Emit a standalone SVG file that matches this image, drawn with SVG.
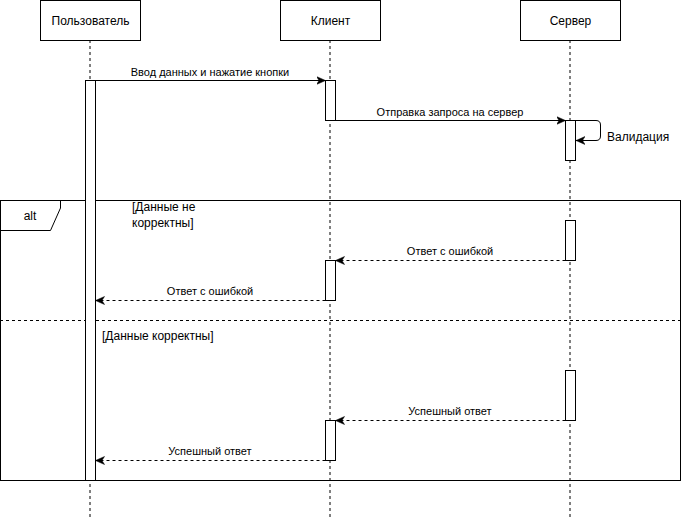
<svg xmlns="http://www.w3.org/2000/svg" width="682" height="522" viewBox="0 0 682 522">
<style>
.box{fill:#fff;stroke:#000;stroke-width:1}
.life{stroke:#000;stroke-width:1;stroke-dasharray:3 3;fill:none}
.act{fill:#fff;stroke:#000;stroke-width:1}
.msg{stroke:#000;stroke-width:1;fill:none;marker-end:url(#arr)}
.ret{stroke:#000;stroke-width:1;fill:none;stroke-dasharray:3 3;marker-end:url(#arr)}
.frame{fill:none;stroke:#000;stroke-width:1}
text{font-family:"Liberation Sans",Arial,sans-serif;fill:#000}
.t12{font-size:12px}
.t11{font-size:11px}
</style>
<defs>
<marker id="arr" markerUnits="userSpaceOnUse" markerWidth="10" markerHeight="10" viewBox="0 0 10 10" refX="9" refY="5" orient="auto">
<path d="M0,1 L9,5 L0,9 L2.5,5 Z" fill="#000" stroke="#000" stroke-width="0.5"/>
</marker>
</defs>
<rect width="682" height="522" fill="#fff"/>

<g id="lifelines">
<line class="life" x1="90" y1="40" x2="90" y2="520"/>
<line class="life" x1="330" y1="40" x2="330" y2="520"/>
<line class="life" x1="570" y1="40" x2="570" y2="520"/>
</g>

<g id="alt-frame">
<rect class="frame" x="0.5" y="200.5" width="680" height="280"/>
<path class="frame" d="M0.5,200.5 L60.5,200.5 L60.5,208 L50.5,230.5 L0.5,230.5"/>
<text class="t12" x="30" y="220" text-anchor="middle">alt</text>
<line class="life" x1="0" y1="320.5" x2="680" y2="320.5"/>
<text class="t12" x="132" y="211">[Данные не</text>
<text class="t12" x="132" y="227">корректны]</text>
<text class="t12" x="102" y="340">[Данные корректны]</text>
</g>

<g id="user">
<rect class="box" x="40.5" y="0.5" width="100" height="40"/>
<text class="t12" x="90.5" y="24.5" text-anchor="middle">Пользователь</text>
<rect class="act" x="85.5" y="80.5" width="10" height="400"/>
</g>

<g id="client">
<rect class="box" x="280.5" y="0.5" width="100" height="40"/>
<text class="t12" x="330.5" y="24.5" text-anchor="middle">Клиент</text>
<rect class="act" x="325.5" y="80.5" width="10" height="40"/>
<rect class="act" x="325.5" y="260.5" width="10" height="40"/>
<rect class="act" x="325.5" y="420.5" width="10" height="40"/>
</g>

<g id="server">
<rect class="box" x="520.5" y="0.5" width="100" height="40"/>
<text class="t12" x="570.5" y="24.5" text-anchor="middle">Сервер</text>
<rect class="act" x="565.5" y="120.5" width="10" height="40"/>
<rect class="act" x="565.5" y="220.5" width="10" height="40"/>
<rect class="act" x="565.5" y="370.5" width="10" height="50"/>
</g>

<g id="connectors">
<line class="msg" x1="95.5" y1="80.5" x2="325.5" y2="80.5"/>
<text class="t11" x="210" y="76" text-anchor="middle">Ввод данных и нажатие кнопки</text>
<line class="msg" x1="335.5" y1="120.5" x2="565.5" y2="120.5"/>
<text class="t11" x="450" y="116" text-anchor="middle">Отправка запроса на сервер</text>
<path class="msg" d="M575.5,120.5 L596,120.5 Q600.5,120.5 600.5,125 L600.5,136 Q600.5,140.5 596,140.5 L576,140.5"/>
<text class="t12" x="607" y="141">Валидация</text>
<line class="ret" x1="565.5" y1="260.5" x2="335.5" y2="260.5"/>
<text class="t11" x="450" y="255" text-anchor="middle">Ответ с ошибкой</text>
<line class="ret" x1="325.5" y1="300.5" x2="95.5" y2="300.5"/>
<text class="t11" x="210" y="295" text-anchor="middle">Ответ с ошибкой</text>
<line class="ret" x1="565.5" y1="420.5" x2="335.5" y2="420.5"/>
<text class="t11" x="450" y="415" text-anchor="middle">Успешный ответ</text>
<line class="ret" x1="325.5" y1="460.5" x2="95.5" y2="460.5"/>
<text class="t11" x="210" y="455" text-anchor="middle">Успешный ответ</text>
</g>
</svg>
